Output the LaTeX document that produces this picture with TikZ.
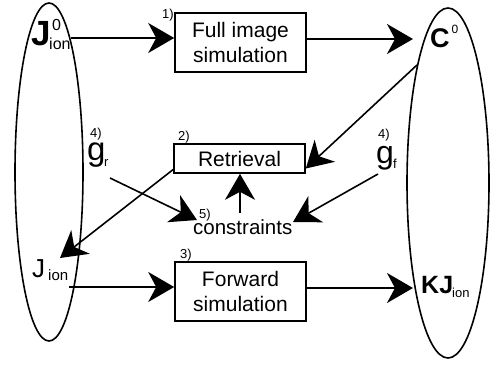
\documentclass[tikz,border=0pt]{standalone}
\usepackage{fontspec}
\setmainfont{Liberation Sans}
\usetikzlibrary{arrows.meta}
\begin{document}
\begin{tikzpicture}[x=1pt,y=-1pt,
  box/.style={draw,line width=1.6pt,minimum width=131pt,align=center,inner sep=0pt,font=\fontsize{21}{25}\selectfont},
  lab/.style={inner sep=0pt,anchor=base west},
  num/.style={lab,font=\fontsize{13}{13}\selectfont},
  conn/.style={line width=1.6pt,-{Stealth[length=26pt,width=30pt,inset=8pt]}}]
\useasboundingbox (0,0) rectangle (492,364);
% ellipses
\draw[line width=1.6pt] (49,172) ellipse [x radius=34, y radius=169];
\draw[line width=1.6pt] (448,183) ellipse [x radius=41, y radius=175];
% boxes
\node[box,minimum height=59pt] (full) at (240.5,42.5) {Full image\\simulation};
\node[box,minimum height=29pt] (ret) at (239.5,158.5) {Retrieval};
\node[box,minimum height=59pt] (fwd) at (240.5,291.5) {Forward\\simulation};
% step numbers
\node[num] (n1) at (162,18) {1)};
\node[num] (n2) at (178,140) {2)};
\node[num] (n3) at (180,258) {3)};
\node[num] (n4l) at (90,137) {4)};
\node[num] (n4r) at (378,138) {4)};
\node[num] (n5) at (199,218) {5)};
% symbols
\node[lab,font=\fontsize{35}{35}\selectfont\bfseries] (J0) at (31,45) {J};
\node[lab,font=\fontsize{16}{16}\selectfont] (J0sup) at (52,30) {0};
\node[lab,font=\fontsize{16}{16}\selectfont] (J0sub) at (49,49) {ion};
\node[lab,font=\fontsize{27}{27}\selectfont\bfseries] (C0) at (430,47) {C};
\node[lab,font=\fontsize{12}{12}\selectfont] (C0sup) at (451.5,33) {0};
\node[lab,font=\fontsize{33}{33}\selectfont] (gr) at (87,160) {g};
\node[lab,font=\fontsize{13}{13}\selectfont] (grsub) at (104,166) {r};
\node[lab,font=\fontsize{32}{32}\selectfont] (gf) at (376,163) {g};
\node[lab,font=\fontsize{13}{13}\selectfont] (gfsub) at (393,168) {f};
\node[lab,font=\fontsize{20.5}{20}\selectfont] (cons) at (193,234) {constraints};
\node[lab,font=\fontsize{26}{26}\selectfont] (J) at (32,277) {J};
\node[lab,font=\fontsize{15}{15}\selectfont] (Jsub) at (48,280) {ion};
\node[lab,font=\fontsize{25}{25}\selectfont\bfseries] (KJ) at (421,293) {KJ};
\node[lab,font=\fontsize{13}{13}\selectfont] (KJsub) at (452,297) {ion};
% connector ends
\coordinate (a1) at (71,38);
\coordinate (a2) at (413,39);
\coordinate (a3) at (417,65);
\coordinate (a4) at (60,258);
\coordinate (a5) at (110,178);
\coordinate (a6) at (197,220);
\coordinate (a7) at (378,174);
\coordinate (a8) at (293,222);
\coordinate (a9) at (240,213);
\coordinate (a10) at (69,287);
\coordinate (a11) at (413,288);
% connectors
\draw[conn] (a1) -- (full.west |- a1);
\draw[conn] (full.east |- a2) -- (a2);
\draw[conn] (a3) -- ([yshift=-10pt]ret.east);
\draw[conn] ([yshift=-11pt]ret.west) -- (a4);
\draw[conn] (a5) -- (a6);
\draw[conn] (a7) -- (a8);
\draw[conn] (a9) -- (ret.south -| a9);
\draw[conn] (a10) -- (fwd.west |- a10);
\draw[conn] (fwd.east |- a11) -- (a11);
\end{tikzpicture}
\end{document}
